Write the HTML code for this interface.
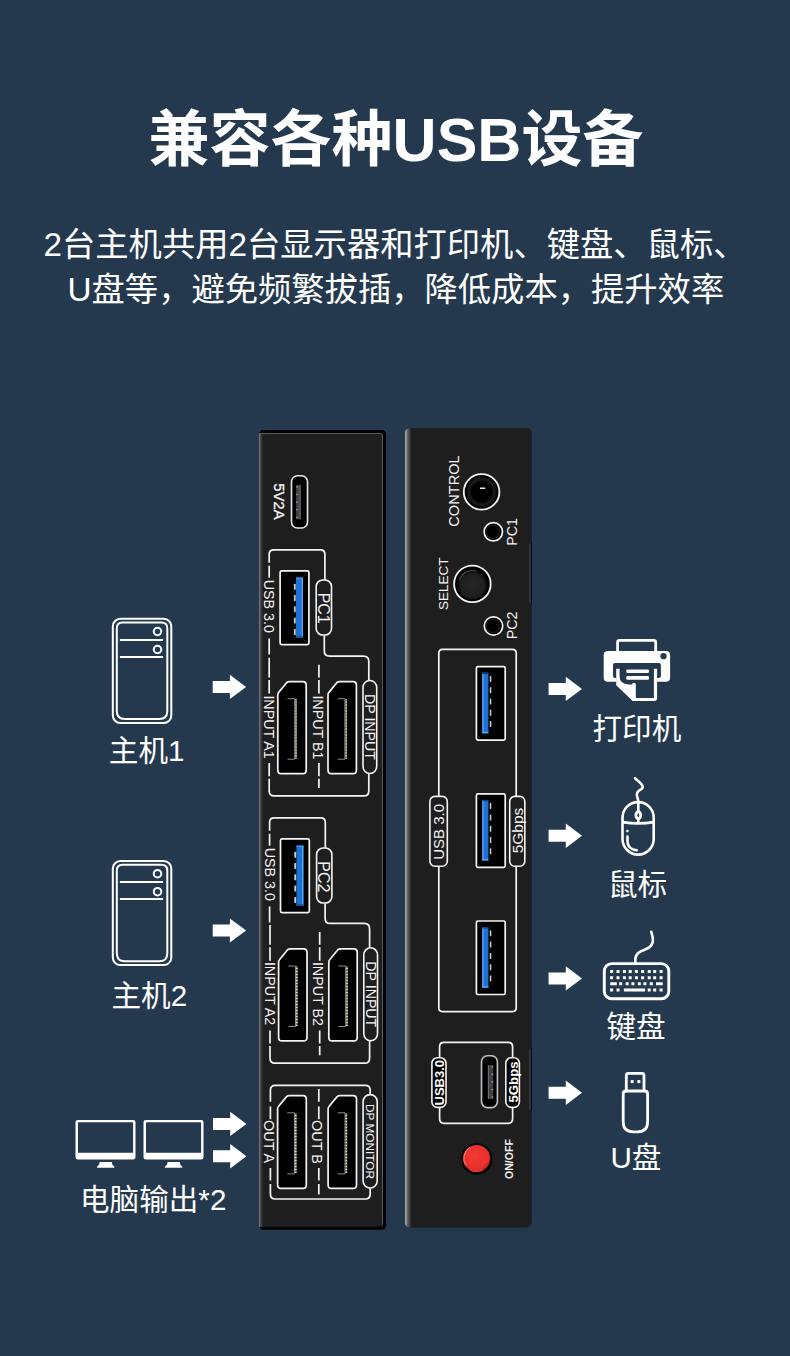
<!DOCTYPE html>
<html lang="zh-CN">
<head>
<meta charset="utf-8">
<title>兼容各种USB设备</title>
<style>
html,body{margin:0;padding:0;}
body{width:790px;height:1356px;background:#25394e;position:relative;overflow:hidden;font-family:"Liberation Sans","Noto Sans CJK SC",sans-serif;}
svg{position:absolute;left:0;top:0;display:block;}
svg text{font-family:"Liberation Sans","Noto Sans CJK SC",sans-serif;}
</style>
</head>
<body>
<svg width="790" height="1356" viewBox="0 0 790 1356" shape-rendering="geometricPrecision">
<text x="396" y="161.2" font-size="61" font-weight="bold" fill="#ffffff" text-anchor="middle">兼容各种USB设备</text>
<text x="43.5" y="255.9" font-size="33.3" fill="#ffffff">2台主机共用2台显示器和打印机、键盘、鼠标、</text>
<text x="67.5" y="301.3" font-size="33.3" fill="#ffffff">U盘等，避免频繁拔插，降低成本，提升效率</text>
<defs>
<linearGradient id="gl" x1="0" x2="1" y1="0" y2="0"><stop offset="0" stop-color="#8a8a8a"/><stop offset="0.35" stop-color="#4a4a4a"/><stop offset="1" stop-color="#1e1e1e"/></linearGradient>
<linearGradient id="gr" x1="0" x2="1" y1="0" y2="0"><stop offset="0" stop-color="#b8b8b8"/><stop offset="0.4" stop-color="#6a6a6a"/><stop offset="1" stop-color="#1e1e1e"/></linearGradient>
<linearGradient id="blue" x1="0" x2="1" y1="0" y2="0"><stop offset="0" stop-color="#1c5fb8"/><stop offset="0.25" stop-color="#2878d8"/><stop offset="0.8" stop-color="#2f80e0"/><stop offset="1" stop-color="#5aa0ee"/></linearGradient>
<radialGradient id="jack" cx="0.5" cy="0.5" r="0.5"><stop offset="0" stop-color="#000"/><stop offset="0.62" stop-color="#000"/><stop offset="0.8" stop-color="#1c1c1c"/><stop offset="1" stop-color="#050505"/></radialGradient>
<radialGradient id="btn" cx="0.5" cy="0.55" r="0.5"><stop offset="0" stop-color="#242424"/><stop offset="0.75" stop-color="#1f1f1f"/><stop offset="0.9" stop-color="#0c0c0c"/><stop offset="1" stop-color="#050505"/></radialGradient>
<radialGradient id="red" cx="0.45" cy="0.4" r="0.6"><stop offset="0" stop-color="#f03a34"/><stop offset="0.8" stop-color="#e8302c"/><stop offset="1" stop-color="#c82420"/></radialGradient>
</defs>
<path d="M261.6 430.1H381.1Q386.1 430.1 386.1 435.1V1224.8Q386.1 1229.8 381.1 1229.8H261.6L259.0 1226.8V433.0Z" fill="#000"/>
<path d="M259.0 433.0H380.0Q383.0 433.0 383.0 436.0V1224.8Q383.0 1226.8 381.0 1226.8H259.0Z" fill="#1e1e1e"/>
<rect x="259.0" y="433.0" width="4" height="793.8" fill="url(#gl)"/>
<path d="M259.5 433.5H380.0Q382.5 433.5 382.5 436.0V1224.8" fill="none" stroke="#5c5c5c" stroke-width="1"/>
<rect x="291.5" y="475.8" width="16" height="52.2" rx="6" fill="#000" stroke="#e6e6e6" stroke-width="1.6"/>
<rect x="296.1" y="485.1" width="4.4" height="34.2" rx="0.6" fill="#3d4148"/>
<rect x="299.6" y="485.1" width="0.9" height="34.2" fill="#7e7e80"/>
<rect x="296.3" y="486.1" width="1.5" height="1.4" fill="#b59d78"/>
<rect x="296.3" y="493.8" width="1.5" height="1.4" fill="#b59d78"/>
<rect x="296.3" y="501.4" width="1.5" height="1.4" fill="#b59d78"/>
<rect x="296.3" y="509" width="1.5" height="1.4" fill="#b59d78"/>
<rect x="296.3" y="516.7" width="1.5" height="1.4" fill="#b59d78"/>
<text transform="translate(273.5 483.3) rotate(90)" font-size="14.8" fill="#f4f4f4" stroke="#f4f4f4" stroke-width="0.35" stroke-linejoin="round">5V2A</text>
<path d="M269.2 562.8V554.3Q269.2 549.8 273.7 549.8H320.4Q324.9 549.8 324.9 554.3V580" fill="none" stroke="#f4f4f4" stroke-width="1.7"/>
<path d="M269.2 565.8V577.8M269.2 638.4V654.6" fill="none" stroke="#f4f4f4" stroke-width="1.7"/>
<rect x="280.1" y="570.9" width="28.8" height="73.8" rx="1.6" fill="#000" stroke="#f4f4f4" stroke-width="1.7"/>
<rect x="296" y="577.6" width="7" height="60.3" fill="#1c70d6"/>
<rect x="301.6" y="577.6" width="1.4" height="60.3" fill="#58a4ee"/>
<rect x="296" y="577.6" width="7" height="1.3" fill="#4a9af0"/>
<rect x="296" y="636.3" width="7" height="1.6" fill="#154f9e"/>
<rect x="293.9" y="583.7" width="1.8" height="6" rx="0.5" fill="#cfcfc8"/>
<rect x="293.9" y="595" width="1.8" height="6" rx="0.5" fill="#cfcfc8"/>
<rect x="293.9" y="606.3" width="1.8" height="6" rx="0.5" fill="#cfcfc8"/>
<rect x="293.9" y="617.6" width="1.8" height="6" rx="0.5" fill="#cfcfc8"/>
<rect x="293.9" y="628.9" width="1.8" height="6" rx="0.5" fill="#cfcfc8"/>
<rect x="316.2" y="580" width="15.3" height="55" rx="6.6" fill="#1e1e1e" stroke="#f4f4f4" stroke-width="1.6"/>
<text transform="translate(264.2 579.7) rotate(90)" font-size="14.3" fill="#f4f4f4">USB 3.0</text>
<text transform="translate(318 608.2) rotate(90)" font-size="16" fill="#f4f4f4" text-anchor="middle">PC1</text>
<path d="M269.2 657.7V677.4M269.2 679.9V693.4M269.2 763.1V776.3M269.2 778.8V791.5" fill="none" stroke="#f4f4f4" stroke-width="1.7"/>
<path d="M324.3 635.4V651.1Q324.3 656.1 329.3 656.1H363.3Q368.8 656.1 368.8 661.6V680.5" fill="none" stroke="#f4f4f4" stroke-width="1.7"/>
<path d="M269.2 791Q269.2 795.9 274.2 795.9H363.8Q368.8 795.9 368.8 790.9V773.5" fill="none" stroke="#f4f4f4" stroke-width="1.7"/>
<path d="M318.9 664.7V677.4M318.9 679.9V693.4M318.9 763.1V776.3M318.9 778.8V787.9" fill="none" stroke="#f4f4f4" stroke-width="1.7"/>
<path d="M277.8 694.9Q277.8 693.4 278.7 692.4L286.8 682.5Q288 681.6 289.5 681.6H302.8Q306.2 681.6 306.2 685V770.2Q306.2 773.6 302.8 773.6H281.2Q277.8 773.6 277.8 770.2Z" fill="#000" stroke="#f4f4f4" stroke-width="1.7" stroke-linejoin="round"/>
<path d="M287.5 698.7H294.7V759.2H287.5" fill="none" stroke="#8c8c8c" stroke-width="1"/>
<path d="M296 699.3V758.8" stroke="#f3eec8" stroke-width="1.7" stroke-dasharray="1 0.5" fill="none"/>
<path d="M328 694.9Q328 693.4 328.9 692.4L337 682.5Q338.2 681.6 339.7 681.6H353Q356.4 681.6 356.4 685V770.2Q356.4 773.6 353 773.6H331.4Q328 773.6 328 770.2Z" fill="#000" stroke="#f4f4f4" stroke-width="1.7" stroke-linejoin="round"/>
<path d="M337.7 698.7H344.9V759.2H337.7" fill="none" stroke="#8c8c8c" stroke-width="1"/>
<path d="M346.2 699.3V758.8" stroke="#f3eec8" stroke-width="1.7" stroke-dasharray="1 0.5" fill="none"/>
<rect x="363" y="680.5" width="13.7" height="93" rx="7" fill="#1e1e1e" stroke="#f4f4f4" stroke-width="1.6"/>
<text transform="translate(263.8 695.4) rotate(90)" font-size="14.3" fill="#f4f4f4">INPUT A1</text>
<text transform="translate(312.6 695.4) rotate(90)" font-size="14.3" fill="#f4f4f4">INPUT B1</text>
<text transform="translate(365.1 694) rotate(90)" font-size="14.2" fill="#f4f4f4">DP INPUT</text>
<g transform="translate(0.4 268.0)">
<path d="M269.2 562.8V554.3Q269.2 549.8 273.7 549.8H320.4Q324.9 549.8 324.9 554.3V580" fill="none" stroke="#f4f4f4" stroke-width="1.7"/>
<path d="M269.2 565.8V577.8M269.2 638.4V654.6" fill="none" stroke="#f4f4f4" stroke-width="1.7"/>
<rect x="280.1" y="570.9" width="28.8" height="73.8" rx="1.6" fill="#000" stroke="#f4f4f4" stroke-width="1.7"/>
<rect x="296" y="577.6" width="7" height="60.3" fill="#1c70d6"/>
<rect x="301.6" y="577.6" width="1.4" height="60.3" fill="#58a4ee"/>
<rect x="296" y="577.6" width="7" height="1.3" fill="#4a9af0"/>
<rect x="296" y="636.3" width="7" height="1.6" fill="#154f9e"/>
<rect x="293.9" y="583.7" width="1.8" height="6" rx="0.5" fill="#cfcfc8"/>
<rect x="293.9" y="595" width="1.8" height="6" rx="0.5" fill="#cfcfc8"/>
<rect x="293.9" y="606.3" width="1.8" height="6" rx="0.5" fill="#cfcfc8"/>
<rect x="293.9" y="617.6" width="1.8" height="6" rx="0.5" fill="#cfcfc8"/>
<rect x="293.9" y="628.9" width="1.8" height="6" rx="0.5" fill="#cfcfc8"/>
<rect x="316.2" y="580" width="15.3" height="55" rx="6.6" fill="#1e1e1e" stroke="#f4f4f4" stroke-width="1.6"/>
<text transform="translate(264.2 579.7) rotate(90)" font-size="14.3" fill="#f4f4f4">USB 3.0</text>
<text transform="translate(318 608.8) rotate(90)" font-size="16" fill="#f4f4f4" text-anchor="middle">PC2</text>
</g>
<g transform="translate(0.8 267.3)">
<path d="M269.2 657.7V677.4M269.2 679.9V693.4M269.2 763.1V776.3M269.2 778.8V791.5" fill="none" stroke="#f4f4f4" stroke-width="1.7"/>
<path d="M324.3 636.3V651.1Q324.3 656.1 329.3 656.1H363.3Q368.8 656.1 368.8 661.6V680.5" fill="none" stroke="#f4f4f4" stroke-width="1.7"/>
<path d="M269.2 791Q269.2 795.9 274.2 795.9H363.8Q368.8 795.9 368.8 790.9V773.5" fill="none" stroke="#f4f4f4" stroke-width="1.7"/>
<path d="M318.9 664.7V677.4M318.9 679.9V693.4M318.9 763.1V776.3M318.9 778.8V787.9" fill="none" stroke="#f4f4f4" stroke-width="1.7"/>
<path d="M277.8 694.9Q277.8 693.4 278.7 692.4L286.8 682.5Q288 681.6 289.5 681.6H302.8Q306.2 681.6 306.2 685V770.2Q306.2 773.6 302.8 773.6H281.2Q277.8 773.6 277.8 770.2Z" fill="#000" stroke="#f4f4f4" stroke-width="1.7" stroke-linejoin="round"/>
<path d="M287.5 698.7H294.7V759.2H287.5" fill="none" stroke="#8c8c8c" stroke-width="1"/>
<path d="M296 699.3V758.8" stroke="#f3eec8" stroke-width="1.7" stroke-dasharray="1 0.5" fill="none"/>
<path d="M328 694.9Q328 693.4 328.9 692.4L337 682.5Q338.2 681.6 339.7 681.6H353Q356.4 681.6 356.4 685V770.2Q356.4 773.6 353 773.6H331.4Q328 773.6 328 770.2Z" fill="#000" stroke="#f4f4f4" stroke-width="1.7" stroke-linejoin="round"/>
<path d="M337.7 698.7H344.9V759.2H337.7" fill="none" stroke="#8c8c8c" stroke-width="1"/>
<path d="M346.2 699.3V758.8" stroke="#f3eec8" stroke-width="1.7" stroke-dasharray="1 0.5" fill="none"/>
<rect x="363" y="680.5" width="13.7" height="93" rx="7" fill="#1e1e1e" stroke="#f4f4f4" stroke-width="1.6"/>
<text transform="translate(263.8 694.6) rotate(90)" font-size="14.3" fill="#f4f4f4">INPUT A2</text>
<text transform="translate(312.6 694.6) rotate(90)" font-size="14.3" fill="#f4f4f4">INPUT B2</text>
<text transform="translate(365.1 694) rotate(90)" font-size="14.2" fill="#f4f4f4">DP INPUT</text>
</g>
<path d="M270.4 1101.8V1090.4Q270.4 1085.4 275.4 1085.4H365.2Q370.2 1085.4 370.2 1090.4V1095" fill="none" stroke="#f4f4f4" stroke-width="1.7"/>
<path d="M270.4 1183.9V1194.0Q270.4 1199.0 275.4 1199.0H365.2Q370.2 1199.0 370.2 1194.0V1188" fill="none" stroke="#f4f4f4" stroke-width="1.7"/>
<path d="M270.4 1106.4V1119.2M270.4 1168V1180.4" fill="none" stroke="#f4f4f4" stroke-width="1.7"/>
<path d="M318.8 1089.1V1101.8M318.8 1106.4V1119.2M318.8 1168V1180.4M318.8 1183.9V1194.6" fill="none" stroke="#f4f4f4" stroke-width="1.7"/>
<path d="M277.6 1109Q277.6 1107.5 278.5 1106.5L286.6 1096.6Q287.8 1095.7 289.3 1095.7H302.9Q306.3 1095.7 306.3 1099.1V1184.9Q306.3 1188.3 302.9 1188.3H281Q277.6 1188.3 277.6 1184.9Z" fill="#000" stroke="#f4f4f4" stroke-width="1.7" stroke-linejoin="round"/>
<path d="M287.3 1112.8H294.5V1173.9H287.3" fill="none" stroke="#8c8c8c" stroke-width="1"/>
<path d="M295.8 1113.4V1173.5" stroke="#f3eec8" stroke-width="1.7" stroke-dasharray="1 0.5" fill="none"/>
<path d="M328.1 1109Q328.1 1107.5 329 1106.5L337.1 1096.6Q338.3 1095.7 339.8 1095.7H353.1Q356.5 1095.7 356.5 1099.1V1184.9Q356.5 1188.3 353.1 1188.3H331.5Q328.1 1188.3 328.1 1184.9Z" fill="#000" stroke="#f4f4f4" stroke-width="1.7" stroke-linejoin="round"/>
<path d="M337.8 1112.8H345V1173.9H337.8" fill="none" stroke="#8c8c8c" stroke-width="1"/>
<path d="M346.3 1113.4V1173.5" stroke="#f3eec8" stroke-width="1.7" stroke-dasharray="1 0.5" fill="none"/>
<rect x="363.1" y="1094.6" width="14.1" height="93.4" rx="7" fill="#1e1e1e" stroke="#f4f4f4" stroke-width="1.6"/>
<text transform="translate(263.8 1120.1) rotate(90)" font-size="14.4" fill="#f4f4f4">OUT A</text>
<text transform="translate(312.4 1120.1) rotate(90)" font-size="14.4" fill="#f4f4f4">OUT B</text>
<text transform="translate(365.5 1104) rotate(90)" font-size="11.8" fill="#f4f4f4">DP MONITOR</text>
<rect x="404.8" y="428.1" width="126.99999999999994" height="799.4" rx="5" fill="#1e1e1e"/>
<clipPath id="rc"><rect x="404.8" y="428.1" width="126.99999999999994" height="799.4" rx="5"/></clipPath>
<rect x="404.8" y="428.1" width="6.5" height="799.4" fill="url(#gr)" clip-path="url(#rc)"/>
<rect x="529.1" y="543.3" width="1.9" height="60.40000000000009" rx="0.8" fill="#373737"/>
<rect x="530.9" y="542.3" width="0.9" height="62.40000000000009" fill="#060606"/>
<rect x="529.1" y="1048.5" width="1.9" height="61.5" rx="0.8" fill="#373737"/>
<rect x="530.9" y="1047.5" width="0.9" height="63.5" fill="#060606"/>
<circle cx="481.6" cy="491.9" r="17.8" fill="#000" stroke="#f4f4f4" stroke-width="1.8"/>
<circle cx="481.6" cy="491.9" r="15.8" fill="url(#jack)"/>
<rect x="479.9" y="487.4" width="5.4" height="1.7" rx="0.6" fill="#ececec"/>
<text transform="translate(459.2 491) rotate(-90)" font-size="14.6" fill="#f4f4f4" text-anchor="middle">CONTROL</text>
<circle cx="493.3" cy="531.8" r="9.2" fill="#000" stroke="#f4f4f4" stroke-width="1.7"/>
<circle cx="492.7" cy="531.8" r="6.6" fill="none" stroke="#1b1b1b" stroke-width="1.2"/>
<circle cx="493.5" cy="626.0" r="9.2" fill="#000" stroke="#f4f4f4" stroke-width="1.7"/>
<circle cx="492.9" cy="626.0" r="6.6" fill="none" stroke="#1b1b1b" stroke-width="1.2"/>
<text transform="translate(517.3 531.9) rotate(-90)" font-size="14.3" fill="#f4f4f4" text-anchor="middle">PC1</text>
<text transform="translate(517.1 625.4) rotate(-90)" font-size="14.3" fill="#f4f4f4" text-anchor="middle">PC2</text>
<circle cx="472.4" cy="583.9" r="18.3" fill="#000" stroke="#f4f4f4" stroke-width="1.8"/>
<circle cx="472.4" cy="583.9" r="15.6" fill="url(#btn)"/>
<path d="M459.6 580A13.4 13.4 0 0 1 476 571" fill="none" stroke="#5a5a5a" stroke-width="1.1" stroke-linecap="round" opacity="0.8"/>
<text transform="translate(447.5 583.8) rotate(-90)" font-size="13.5" fill="#f4f4f4" text-anchor="middle">SELECT</text>
<path d="M438.8 796.5V653.0999999999999Q438.8 649.3 442.6 649.3H512.4000000000001Q516.2 649.3 516.2 653.0999999999999V796.5" fill="none" stroke="#f4f4f4" stroke-width="1.7"/>
<path d="M438.8 866.5V1007.8000000000001Q438.8 1011.6 442.6 1011.6H512.4000000000001Q516.2 1011.6 516.2 1007.8000000000001V866.5" fill="none" stroke="#f4f4f4" stroke-width="1.7"/>
<rect x="476.4" y="666.6" width="28.8" height="73.5" rx="1.6" fill="#000" stroke="#f4f4f4" stroke-width="1.7"/>
<rect x="482.3" y="672.7" width="6.1" height="60.6" fill="#1c70d6"/>
<rect x="482.3" y="672.7" width="1.4" height="60.6" fill="#58a4ee"/>
<rect x="482.3" y="672.7" width="6.1" height="1.4" fill="#123e7e"/>
<rect x="482.3" y="731.9" width="6.1" height="1.4" fill="#5aaaf6"/>
<rect x="489.8" y="675.9" width="1.5" height="6" rx="0.5" fill="#cfcfc8"/>
<rect x="489.8" y="687.2" width="1.5" height="6" rx="0.5" fill="#cfcfc8"/>
<rect x="489.8" y="698.5" width="1.5" height="6" rx="0.5" fill="#cfcfc8"/>
<rect x="489.8" y="709.8" width="1.5" height="6" rx="0.5" fill="#cfcfc8"/>
<rect x="489.8" y="721.1" width="1.5" height="6" rx="0.5" fill="#cfcfc8"/>
<rect x="476.4" y="793.8" width="28.8" height="73.5" rx="1.6" fill="#000" stroke="#f4f4f4" stroke-width="1.7"/>
<rect x="482.3" y="799.9" width="6.1" height="60.6" fill="#1c70d6"/>
<rect x="482.3" y="799.9" width="1.4" height="60.6" fill="#58a4ee"/>
<rect x="482.3" y="799.9" width="6.1" height="1.4" fill="#123e7e"/>
<rect x="482.3" y="859.1" width="6.1" height="1.4" fill="#5aaaf6"/>
<rect x="489.8" y="803.1" width="1.5" height="6" rx="0.5" fill="#cfcfc8"/>
<rect x="489.8" y="814.4" width="1.5" height="6" rx="0.5" fill="#cfcfc8"/>
<rect x="489.8" y="825.7" width="1.5" height="6" rx="0.5" fill="#cfcfc8"/>
<rect x="489.8" y="837" width="1.5" height="6" rx="0.5" fill="#cfcfc8"/>
<rect x="489.8" y="848.3" width="1.5" height="6" rx="0.5" fill="#cfcfc8"/>
<rect x="476.4" y="921" width="28.8" height="73.5" rx="1.6" fill="#000" stroke="#f4f4f4" stroke-width="1.7"/>
<rect x="482.3" y="927.1" width="6.1" height="60.6" fill="#1c70d6"/>
<rect x="482.3" y="927.1" width="1.4" height="60.6" fill="#58a4ee"/>
<rect x="482.3" y="927.1" width="6.1" height="1.4" fill="#123e7e"/>
<rect x="482.3" y="986.3" width="6.1" height="1.4" fill="#5aaaf6"/>
<rect x="489.8" y="930.3" width="1.5" height="6" rx="0.5" fill="#cfcfc8"/>
<rect x="489.8" y="941.6" width="1.5" height="6" rx="0.5" fill="#cfcfc8"/>
<rect x="489.8" y="952.9" width="1.5" height="6" rx="0.5" fill="#cfcfc8"/>
<rect x="489.8" y="964.2" width="1.5" height="6" rx="0.5" fill="#cfcfc8"/>
<rect x="489.8" y="975.5" width="1.5" height="6" rx="0.5" fill="#cfcfc8"/>
<rect x="429.9" y="796.4" width="17.4" height="69.8" rx="5" fill="#1e1e1e" stroke="#f4f4f4" stroke-width="1.6"/>
<rect x="509.7" y="796.4" width="15.1" height="69.8" rx="5" fill="#1e1e1e" stroke="#f4f4f4" stroke-width="1.6"/>
<text transform="translate(444.1 831.9) rotate(-90)" font-size="15" fill="#f4f4f4" text-anchor="middle">USB 3.0</text>
<text transform="translate(522.8 830.5) rotate(-90)" font-size="15.5" fill="#f4f4f4" text-anchor="middle">5Gbps</text>
<path d="M439.6 1058V1046.8Q439.6 1042.3 444.1 1042.3H508.1Q512.6 1042.3 512.6 1046.8V1058" fill="none" stroke="#f4f4f4" stroke-width="1.7"/>
<path d="M439.6 1107V1118.8Q439.6 1123.3 444.1 1123.3H508.1Q512.6 1123.3 512.6 1118.8V1107" fill="none" stroke="#f4f4f4" stroke-width="1.7"/>
<rect x="431.9" y="1057.7" width="14.1" height="49.7" rx="5.5" fill="#000" stroke="#f4f4f4" stroke-width="1.6"/>
<rect x="505.8" y="1057.7" width="13.6" height="49.7" rx="5.5" fill="#000" stroke="#f4f4f4" stroke-width="1.6"/>
<rect x="481.5" y="1055.8" width="15.9" height="51.8" rx="6" fill="#000" stroke="#c4c4c4" stroke-width="1.6"/>
<rect x="487.9" y="1065.1" width="5.4" height="33.8" rx="0.6" fill="#3d4148"/>
<rect x="487.9" y="1065.1" width="0.9" height="33.8" fill="#77777a"/>
<rect x="491.6" y="1066.1" width="1.5" height="1.4" fill="#b59d78"/>
<rect x="491.6" y="1073.6" width="1.5" height="1.4" fill="#b59d78"/>
<rect x="491.6" y="1081.2" width="1.5" height="1.4" fill="#b59d78"/>
<rect x="491.6" y="1088.8" width="1.5" height="1.4" fill="#b59d78"/>
<rect x="491.6" y="1096.3" width="1.5" height="1.4" fill="#b59d78"/>
<text transform="translate(444.4 1082.7) rotate(-90)" font-size="13" font-weight="bold" fill="#fff" text-anchor="middle">USB3.0</text>
<text transform="translate(517.8 1082) rotate(-90)" font-size="13.2" font-weight="bold" fill="#fff" text-anchor="middle">5Gbps</text>
<circle cx="476.8" cy="1158.9" r="16.2" fill="#151515"/>
<circle cx="476.8" cy="1158.9" r="15.4" fill="#020202"/>
<circle cx="476.6" cy="1158.4" r="13.5" fill="url(#red)"/>
<path d="M465.6 1165.2A13 13 0 0 1 469.5 1147.5" fill="none" stroke="#ff9a90" stroke-width="1" stroke-linecap="round" opacity="0.75"/>
<path d="M470.5 1169.9A13 13 0 0 0 482 1170.2" fill="none" stroke="#ff4a40" stroke-width="1.2" stroke-linecap="round" opacity="0.8"/>
<text transform="translate(513.3 1159) rotate(-90)" font-size="10.6" font-weight="bold" fill="#f4f4f4" text-anchor="middle">ON/OFF</text>
<rect x="112.8" y="618.8" width="58.5" height="104.1" rx="7.6" fill="none" stroke="#ffffff" stroke-width="2.0"/>
<path d="M116.8 628.4Q116.8 622.6 122.6 622.6H161.5Q167.3 622.6 167.3 628.4V711Q167.3 719 159.3 719H124.8Q116.8 719 116.8 711Z" fill="none" stroke="#ffffff" stroke-width="2.0"/>
<path d="M119.9 639.9H163.1M119.9 656.9H163.1" stroke="#ffffff" stroke-width="2.0" fill="none"/>
<circle cx="157.5" cy="631.5" r="3.75" fill="none" stroke="#ffffff" stroke-width="2.0"/>
<circle cx="157.5" cy="649.5" r="3.75" fill="none" stroke="#ffffff" stroke-width="2.0"/>
<rect x="112.8" y="861" width="58.5" height="104.1" rx="7.6" fill="none" stroke="#ffffff" stroke-width="2.0"/>
<path d="M116.8 870.6Q116.8 864.8 122.6 864.8H161.5Q167.3 864.8 167.3 870.6V953.2Q167.3 961.2 159.3 961.2H124.8Q116.8 961.2 116.8 953.2Z" fill="none" stroke="#ffffff" stroke-width="2.0"/>
<path d="M119.9 882.1H163.1M119.9 899.1H163.1" stroke="#ffffff" stroke-width="2.0" fill="none"/>
<circle cx="157.5" cy="873.7" r="3.75" fill="none" stroke="#ffffff" stroke-width="2.0"/>
<circle cx="157.5" cy="891.7" r="3.75" fill="none" stroke="#ffffff" stroke-width="2.0"/>
<text x="108.8" y="760.9" font-size="29.6" fill="#ffffff">主机1</text>
<text x="111.5" y="1005.6" font-size="29.6" fill="#ffffff">主机2</text>
<path d="M212.7 680.9H229.9V674.8L246.1 686.9L229.9 699V692.9H212.7Z" fill="#ffffff"/>
<path d="M212.7 924.5H229.9V918.4L246.1 930.5L229.9 942.6V936.5H212.7Z" fill="#ffffff"/>
<path d="M77.9 1119.9H133.1Q135.5 1119.9 135.5 1122.3V1157.2Q135.5 1159.6 133.1 1159.6H77.9Q75.5 1159.6 75.5 1157.2V1122.3Q75.5 1119.9 77.9 1119.9ZM78 1123V1152.7H133.1V1123Q133.1 1122.2 132.3 1122.2H78.8Q78 1122.2 78 1123Z" fill="#ffffff" fill-rule="evenodd"/>
<path d="M99.7 1161.9H111.7Q112 1165.4 114.2 1166.5Q115.1 1167.8 113.5 1167.8H97.9Q96.2 1167.8 97.1 1166.5Q99.4 1165.4 99.7 1161.9Z" fill="#ffffff"/>
<path d="M145.9 1119.9H201.1Q203.5 1119.9 203.5 1122.3V1157.2Q203.5 1159.6 201.1 1159.6H145.9Q143.5 1159.6 143.5 1157.2V1122.3Q143.5 1119.9 145.9 1119.9ZM146 1123V1152.7H201.1V1123Q201.1 1122.2 200.3 1122.2H146.8Q146 1122.2 146 1123Z" fill="#ffffff" fill-rule="evenodd"/>
<path d="M167.7 1161.9H179.7Q180 1165.4 182.2 1166.5Q183.1 1167.8 181.5 1167.8H165.8Q164.2 1167.8 165.1 1166.5Q167.3 1165.4 167.7 1161.9Z" fill="#ffffff"/>
<path d="M213 1117.9H230.2V1111.8L246.4 1123.9L230.2 1136.1V1130H213Z" fill="#ffffff"/>
<path d="M213 1150.2H230.2V1144L246.4 1156.2L230.2 1168.4V1162.2H213Z" fill="#ffffff"/>
<text x="80" y="1210" font-size="29.6" fill="#ffffff">电脑输出*2</text>
<path d="M548.6 682.9H565.8V676.8L582 688.9L565.8 701V694.9H548.6Z" fill="#ffffff"/>
<path d="M548.6 829.7H565.8V823.6L582 835.7L565.8 847.9V841.8H548.6Z" fill="#ffffff"/>
<path d="M548.6 972.4H565.8V966.2L582 978.4L565.8 990.5V984.4H548.6Z" fill="#ffffff"/>
<path d="M548.6 1086.8H565.8V1080.6L582 1092.8L565.8 1105V1098.8H548.6Z" fill="#ffffff"/>
<rect x="617.6" y="640.3" width="38.1" height="14" rx="2" fill="none" stroke="#ffffff" stroke-width="2.8"/>
<path d="M608 650.9H665.8Q670.1 650.9 670.1 655.2V677.5Q670.1 681.8 665.8 681.8H608Q603.7 681.8 603.7 677.5V655.2Q603.7 650.9 608 650.9ZM615 663Q613 663 613 665V676Q613 677.9 615 677.9H616.2V681.8H657.1V677.9H658.9Q660.9 677.9 660.9 676V665Q660.9 663 658.9 663Z" fill="#ffffff" fill-rule="evenodd"/>
<circle cx="663.5" cy="656.2" r="3.1" fill="#25394e"/>
<path d="M616.2 668.7V685.2L632.7 701.1H654.1Q657.1 701.1 657.1 698.1V668.7H653.9V697.9H635.8V684.6Q635.8 682.6 634.2 682.8Q632.2 683 631.8 684.4H628.6Q619.6 684.4 619.6 676V668.7Z" fill="#ffffff"/>
<rect x="626.3" y="669.4" width="22.7" height="3.5" rx="1.2" fill="#ffffff"/>
<rect x="626.3" y="676.1" width="22.7" height="3.6" rx="1.2" fill="#ffffff"/>
<text x="592.5" y="739.2" font-size="29.6" fill="#ffffff">打印机</text>
<rect x="622.5" y="802.1" width="31.2" height="52.5" rx="15.6" fill="none" stroke="#ffffff" stroke-width="2.6"/>
<path d="M622.5 822.1Q638.1 824.6 653.7 822.1" fill="none" stroke="#ffffff" stroke-width="2.6"/>
<path d="M638.3 802V823" fill="none" stroke="#ffffff" stroke-width="2.6"/>
<ellipse cx="638.3" cy="815.2" rx="3.8" ry="4.9" fill="#ffffff"/>
<ellipse cx="638.3" cy="815.2" rx="0.9" ry="1.9" fill="#25394e"/>
<path d="M638.3 802C638.3 797 635.6 796.5 637.3 792.5C638.8 789.3 643.4 789.6 642.7 786.6C642 783.5 638 780.8 635 778.2" fill="none" stroke="#ffffff" stroke-width="2.6" stroke-linecap="round"/>
<circle cx="627.4" cy="831.1" r="1.3" fill="#ffffff"/>
<path d="M627.5 836.6V841C627.5 846.5 631.5 849.8 636.8 850.2" fill="none" stroke="#ffffff" stroke-width="2.6" stroke-linecap="round"/>
<text x="608" y="894.5" font-size="29.6" fill="#ffffff">鼠标</text>
<rect x="604.3" y="963.6" width="64.5" height="35.2" rx="7.5" fill="none" stroke="#ffffff" stroke-width="2.9"/>
<path d="M610.1 969.9h3.0v3.0h-3.0zM616.5 969.9h3.0v3.0h-3.0zM622.9 969.9h3.0v3.0h-3.0zM628.7 969.9h3.0v3.0h-3.0zM634.9 969.9h3.0v3.0h-3.0zM641.1 969.9h3.0v3.0h-3.0zM647.7 969.9h3.0v3.0h-3.0zM653.2 969.9h3.0v3.0h-3.0zM659.6 969.9h3.0v3.0h-3.0zM610.1 976.3h3.0v3.0h-3.0zM616.5 976.3h3.0v3.0h-3.0zM622.9 976.3h3.0v3.0h-3.0zM628.7 976.3h3.0v3.0h-3.0zM634.9 976.3h3.0v3.0h-3.0zM641.1 976.3h3.0v3.0h-3.0zM647.7 976.3h3.0v3.0h-3.0zM653.2 976.3h3.0v3.0h-3.0zM659.6 976.3h3.0v3.0h-3.0zM610.2 982.2H616.8v3.0H610.2zM619.2 982.2h3.0v3.0h-3.0zM625.7 982.2h3.0v3.0h-3.0zM631.4 982.2h3.0v3.0h-3.0zM637.8 982.2h3.0v3.0h-3.0zM643.4 982.2h3.0v3.0h-3.0zM649.8 982.2h3.0v3.0h-3.0zM656 982.2H662.7v3.0H656zM610.1 988.5h3.0v3.0h-3.0zM616.5 988.5h3.0v3.0h-3.0zM647.7 988.5h3.0v3.0h-3.0zM653.2 988.5h3.0v3.0h-3.0zM659.6 988.5h3.0v3.0h-3.0zM623.9 988.5H645.1v3.0H623.9z" fill="#ffffff"/>
<path d="M635.3 964V959.5C635.3 953 641 951 645.5 949.3C650.5 947.4 653.2 944.5 652.9 939.5C652.7 936.5 652 934 651.3 931.8" fill="none" stroke="#ffffff" stroke-width="2.6" stroke-linecap="round"/>
<text x="606.5" y="1036.8" font-size="29.6" fill="#ffffff">键盘</text>
<path d="M626.3 1090V1075.3Q626.3 1073.3 628.3 1073.3H642Q644 1073.3 644 1075.3V1090" fill="none" stroke="#ffffff" stroke-width="2.8"/>
<path d="M623.2 1094Q623.2 1091 626.2 1091H644.6Q647.6 1091 647.6 1094V1121.8Q647.6 1131.8 637.6 1131.8H633.2Q623.2 1131.8 623.2 1121.8Z" fill="none" stroke="#ffffff" stroke-width="2.8"/>
<rect x="630.7" y="1080.1" width="3" height="3" fill="#ffffff"/><rect x="637.3" y="1080.1" width="3" height="3" fill="#ffffff"/>
<text x="610.5" y="1168.3" font-size="29.6" fill="#ffffff">U盘</text>
</svg>
</body>
</html>
